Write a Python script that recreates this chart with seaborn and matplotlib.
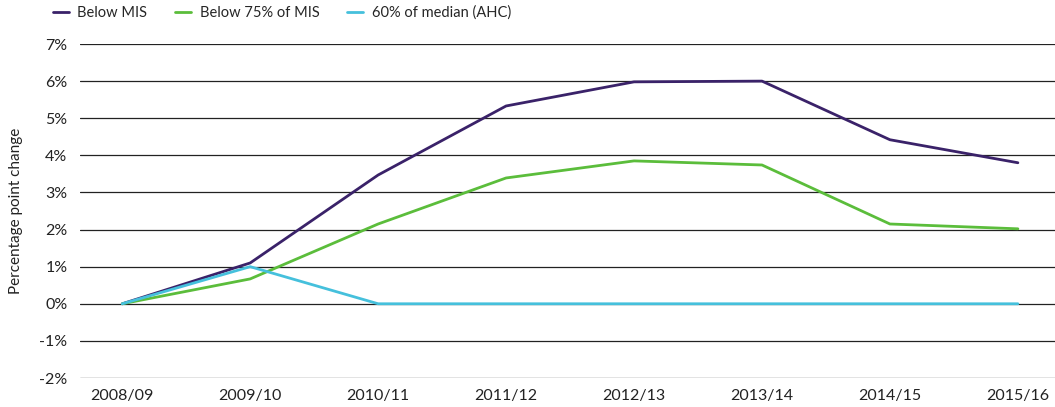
import matplotlib
matplotlib.use("Agg")
import matplotlib.pyplot as plt
import seaborn as sns
import pandas as pd
from matplotlib.ticker import FuncFormatter

years = ["2008/09", "2009/10", "2010/11", "2011/12", "2012/13", "2013/14", "2014/15", "2015/16"]
below_mis = [0.0, 1.10, 3.47, 5.33, 5.98, 6.00, 4.42, 3.80]
below_75_mis = [0.0, 0.67, 2.15, 3.39, 3.85, 3.74, 2.15, 2.02]
median_60_ahc = [0.0, 1.00, 0.0, 0.0, 0.0, 0.0, 0.0, 0.0]
series_names = ["Below MIS", "Below 75% of MIS", "60% of median (AHC)"]
colors = ["#3a2269", "#5bbd3b", "#45c0dc"]

rows = []
for name, vals in zip(series_names, [below_mis, below_75_mis, median_60_ahc]):
    for i, (y, v) in enumerate(zip(years, vals)):
        rows.append({"year": y, "idx": i, "value": v, "series": name})
df = pd.DataFrame(rows)

sns.set_theme(style="white")
plt.rcParams['font.family'] = ['Lato', 'DejaVu Sans']

fig = plt.figure(figsize=(10.55, 4.07), dpi=100)
ax = fig.add_axes([80/1055, 1-378/407, (1055-80)/1055, (378-44)/407])

sns.lineplot(data=df, x="idx", y="value", hue="series", hue_order=series_names,
             palette=colors, linewidth=2, ax=ax, legend=True)

ax.set_ylim(-2, 7)
ax.set_yticks(range(-2, 8))
ax.yaxis.set_major_formatter(FuncFormatter(lambda v, p: f"{int(v)}%"))
ax.set_xlim(-0.33, 7.29)
ax.set_xticks(range(len(years)))
ax.set_xticklabels(years)
ax.grid(axis="y", color="#222222", linewidth=0.9)
ax.set_axisbelow(True)
for s in ax.spines.values():
    s.set_visible(False)
ax.tick_params(axis="both", length=0, labelsize=11.5, colors="#222222")
ax.tick_params(axis="y", pad=9)
ax.tick_params(axis="x", pad=8)
ax.set_xlabel("")
ax.set_ylabel("Percentage point change", fontsize=11, color="#222222", labelpad=12)

handles, labels = ax.get_legend_handles_labels()
ax.legend(handles, labels, loc="lower left", bbox_to_anchor=(-0.034, 1.055), ncol=3,
          frameon=False, fontsize=10.5, handlelength=1.1, columnspacing=1.9,
          borderaxespad=0, handletextpad=0.6)

fig.savefig("out.png", dpi=100)
